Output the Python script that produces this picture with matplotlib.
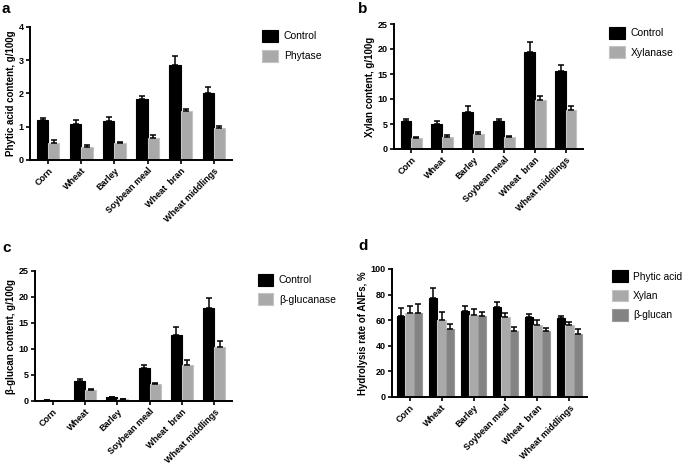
import matplotlib
matplotlib.use("Agg")
import matplotlib.pyplot as plt
import numpy as np

plt.rcParams['font.family'] = ['Liberation Sans', 'DejaVu Sans']

categories = ["Corn", "Wheat", "Barley", "Soybean meal", "Wheat  bran", "Wheat middlings"]

# Panel a
phy_ctrl = [1.20, 1.07, 1.18, 1.83, 2.87, 2.00]
phy_ctrl_err = [0.07, 0.12, 0.10, 0.10, 0.25, 0.20]
phy_enz = [0.52, 0.38, 0.50, 0.67, 1.47, 0.97]
phy_enz_err = [0.07, 0.08, 0.04, 0.07, 0.07, 0.05]

# Panel b
xyl_ctrl = [5.6, 5.0, 7.5, 5.6, 19.4, 15.7]
xyl_ctrl_err = [0.5, 0.6, 1.1, 0.4, 2.0, 1.2]
xyl_enz = [2.2, 2.5, 3.1, 2.4, 9.8, 7.9]
xyl_enz_err = [0.2, 0.3, 0.4, 0.2, 0.9, 0.7]

# Panel c
glu_ctrl = [0.2, 3.9, 0.8, 6.3, 12.7, 17.8]
glu_ctrl_err = [0.0, 0.4, 0.0, 0.6, 1.6, 2.1]
glu_enz = [0.05, 2.2, 0.35, 3.3, 7.0, 10.3]
glu_enz_err = [0.0, 0.2, 0.0, 0.2, 0.8, 1.3]

# Panel d
hyd_phy = [63.5, 77.0, 67.5, 70.5, 62.5, 61.5]
hyd_phy_err = [6.0, 8.0, 3.5, 3.5, 2.5, 1.5]
hyd_xyl = [65.5, 60.0, 64.0, 62.5, 56.5, 56.0]
hyd_xyl_err = [5.5, 6.5, 5.0, 3.5, 4.0, 2.5]
hyd_glu = [65.5, 53.5, 63.0, 51.5, 51.5, 49.5]
hyd_glu_err = [7.0, 3.5, 3.5, 3.5, 2.5, 3.5]

BLACK = "#000000"
LGREY = "#a9a9a9"
LGREY_E = "#c4c4c4"
DGREY = "#838383"
DGREY_E = "#9a9a9a"

fig = plt.figure(figsize=(6.85, 4.67), dpi=100)

def style(ax, ylim, yticks, ylabel):
    ax.set_xlim(-0.55, len(categories) - 0.45)
    ax.set_ylim(*ylim)
    ax.set_yticks(yticks)
    ax.set_xticks(np.arange(len(categories)))
    ax.set_xticklabels(categories, rotation=45, ha='right', rotation_mode='anchor',
                       fontsize=6.5, fontweight='bold')
    for lab in ax.get_yticklabels():
        lab.set_fontsize(6.5)
        lab.set_fontweight('bold')
    ax.spines['top'].set_visible(False)
    ax.spines['right'].set_visible(False)
    ax.spines['left'].set_linewidth(1.4)
    ax.spines['bottom'].set_linewidth(1.4)
    ax.tick_params(axis='both', direction='out', length=3, width=1.2, pad=1.5)
    ax.set_ylabel(ylabel, fontsize=7, fontweight='bold', labelpad=2)

def draw_bars(ax, series, errs, colors, ecolors, width):
    n = len(series)
    x = np.arange(len(categories))
    handles = []
    for i, (vals, err, c, ec) in enumerate(zip(series, errs, colors, ecolors)):
        off = (i - (n - 1) / 2) * width
        b = ax.bar(x + off, vals, width=width, color=c, edgecolor=ec, linewidth=0.8, zorder=2)
        ax.errorbar(x + off, vals, yerr=[np.zeros(len(vals)), err], fmt='none',
                    ecolor='black', elinewidth=1.1, capsize=2.2, capthick=1.1, zorder=3)
        handles.append(b)
    return handles

def legend(ax, handles, labels, x, y, fs=7.5):
    ax.legend(handles, labels, loc='upper left', bbox_to_anchor=(x, y), frameon=False,
              fontsize=fs, handlelength=1.5, handleheight=1.4, handletextpad=0.55,
              labelspacing=0.75, borderaxespad=0, borderpad=0)

# a
ax_a = fig.add_axes([30/685, 1-160/467, 202/685, 133/467])
h = draw_bars(ax_a, [phy_ctrl, phy_enz], [phy_ctrl_err, phy_enz_err],
              [BLACK, LGREY], [BLACK, LGREY_E], 0.34)
style(ax_a, (0, 4), [0, 1, 2, 3, 4], "Phytic acid content, g/100g")
legend(ax_a, h, ["Control", "Phytase"], 1.15, 0.98)

# b
ax_b = fig.add_axes([394/685, 1-149/467, 189/685, 125/467])
h = draw_bars(ax_b, [xyl_ctrl, xyl_enz], [xyl_ctrl_err, xyl_enz_err],
              [BLACK, LGREY], [BLACK, LGREY_E], 0.34)
style(ax_b, (0, 25), [0, 5, 10, 15, 20, 25], "Xylan content, g/100g")
legend(ax_b, h, ["Control", "Xylanase"], 1.14, 0.98)

# c
ax_c = fig.add_axes([35/685, 1-401/467, 197/685, 130/467])
h = draw_bars(ax_c, [glu_ctrl, glu_enz], [glu_ctrl_err, glu_enz_err],
              [BLACK, LGREY], [BLACK, LGREY_E], 0.34)
style(ax_c, (0, 25), [0, 5, 10, 15, 20, 25], "β-glucan content, g/100g")
legend(ax_c, h, ["Control", "β-glucanase"], 1.13, 0.98)

# d
ax_d = fig.add_axes([392/685, 1-397/467, 195/685, 128/467])
h = draw_bars(ax_d, [hyd_phy, hyd_xyl, hyd_glu], [hyd_phy_err, hyd_xyl_err, hyd_glu_err],
              [BLACK, LGREY, DGREY], [BLACK, LGREY_E, DGREY_E], 0.26)
style(ax_d, (0, 100), [0, 20, 40, 60, 80, 100], "Hydrolysis rate of ANFs, %")
legend(ax_d, h, ["Phytic acid", "Xylan", "β-glucan"], 1.13, 0.99, fs=7.3)

# panel letters
for lbl, x, y in [("a", 2, 13), ("b", 358, 13), ("c", 2, 252), ("d", 358, 250)]:
    fig.text(x/685, 1-y/467, lbl, fontsize=11, fontweight='bold', ha='left', va='baseline')

fig.savefig("out.png", dpi=100)
